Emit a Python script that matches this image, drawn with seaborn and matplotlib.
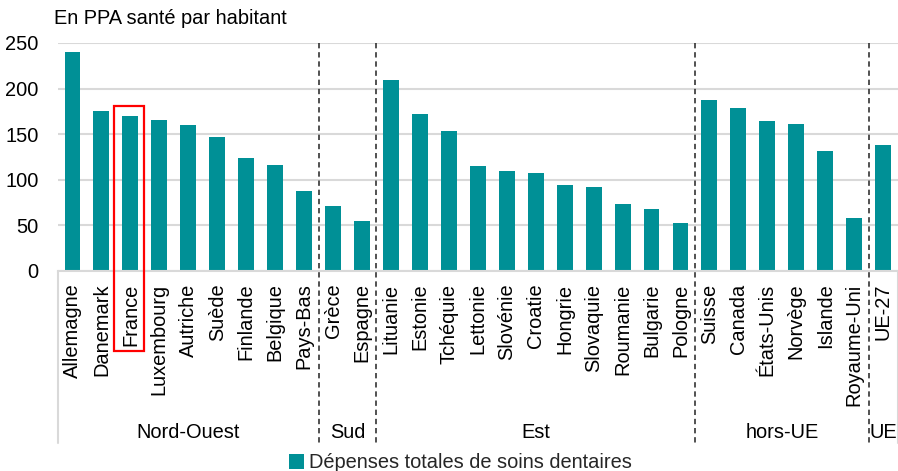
import matplotlib
matplotlib.use("Agg")
import matplotlib.pyplot as plt
from matplotlib.patches import Patch, Rectangle
import seaborn as sns
import pandas as pd

# Dental care spending per inhabitant (health PPP), grouped by region
countries = [
    "Allemagne", "Danemark", "France", "Luxembourg", "Autriche", "Suède",
    "Finlande", "Belgique", "Pays-Bas",
    "Grèce", "Espagne",
    "Lituanie", "Estonie", "Tchéquie", "Lettonie", "Slovénie", "Croatie",
    "Hongrie", "Slovaquie", "Roumanie", "Bulgarie", "Pologne",
    "Suisse", "Canada", "États-Unis", "Norvège", "Islande", "Royaume-Uni",
    "UE-27",
]
spending = [
    240, 175, 170, 166, 160, 147, 124, 116, 88,
    71, 55,
    209, 172, 153, 115, 110, 107, 94, 92, 73, 68, 53,
    187, 179, 165, 161, 132, 58,
    138,
]
group_names = ["Nord-Ouest", "Sud", "Est", "hors-UE", "UE"]
group_sizes = [9, 2, 11, 6, 1]
highlight = "France"

y_ticks = [0, 50, 100, 150, 200, 250]
y_title = "En PPA santé par habitant"
legend_label = "Dépenses totales de soins dentaires"

bar_color = "#009096"
grid_color = "#d9d9d9"

sns.set_theme(style="white")
plt.rcParams["font.family"] = ["Liberation Sans", "DejaVu Sans"]
plt.rcParams["font.size"] = 14.4

df = pd.DataFrame({"pays": countries, "valeur": spending})

fig = plt.figure(figsize=(8.98, 4.71), dpi=100)
W, H = 898, 471
left, right, top, bottom = 58, 897.6, 43, 271
ax = fig.add_axes([left / W, 1 - bottom / H, (right - left) / W, (bottom - top) / H])

sns.barplot(data=df, x="pays", y="valeur", color=bar_color, width=0.55,
            saturation=1, linewidth=0, ax=ax)

ax.set_xlim(-0.5, len(countries) - 0.5)
ax.set_ylim(0, 250)
ax.set_yticks(y_ticks)
ax.yaxis.grid(True, color=grid_color, linewidth=1.5)
ax.set_axisbelow(True)
ax.set_xlabel("")
ax.set_ylabel("")

for side in ["left", "right", "top"]:
    ax.spines[side].set_visible(False)
ax.spines["bottom"].set_color(grid_color)
ax.spines["bottom"].set_linewidth(1.5)

ax.tick_params(axis="x", length=0, pad=9, labelsize=14.4, rotation=90,
               labelcolor="black")
ax.tick_params(axis="y", length=0, pad=14, labelsize=14.4, labelcolor="black")
for lbl in ax.get_xticklabels():
    lbl.set_va("top")

# Axis-space depth of the category area below the bars
px_to_axes = 1.0 / (bottom - top)
low = -(443 - bottom) * px_to_axes
label_y = -(432 - bottom) * px_to_axes
xt = ax.get_xaxis_transform()

# Outer frame of the category area
for xpos in (-0.5, len(countries) - 0.5):
    ax.plot([xpos, xpos], [0, low], transform=xt, clip_on=False,
            color=grid_color, linewidth=1.5)

# Group separators and group names
start = 0
for i, (name, size) in enumerate(zip(group_names, group_sizes)):
    center = start + (size - 1) / 2
    ax.text(center, label_y, name, transform=xt, ha="center", va="center",
            fontsize=14.4, color="black")
    end = start + size
    if i < len(group_names) - 1:
        xpos = end - 0.5
        ax.plot([xpos, xpos], [1, low], transform=xt, clip_on=False,
                color="#222222", linewidth=1.1, linestyle=(0, (3.5, 2.5)))
    start = end

# Highlight frame around one country
hi = countries.index(highlight)
rect_top = (bottom - 106) * px_to_axes
rect_bottom = -(351 - bottom) * px_to_axes
ax.add_patch(Rectangle((hi - 0.58, rect_bottom), 1.05, rect_top - rect_bottom,
                       transform=xt, fill=False, edgecolor="#ff0000",
                       linewidth=1.6, clip_on=False, zorder=5))

fig.text(54 / W, 1 - 9 / H, y_title, ha="left", va="top", fontsize=14.4,
         color="black")

fig.legend(handles=[Patch(facecolor=bar_color, edgecolor="none",
                          label=legend_label)],
           loc="center", bbox_to_anchor=(460 / W, 1 - 463 / H), frameon=False,
           fontsize=14.4, handlelength=0.75, handleheight=0.75,
           handletextpad=0.25, borderpad=0, borderaxespad=0)

fig.savefig("out.png", dpi=100)
